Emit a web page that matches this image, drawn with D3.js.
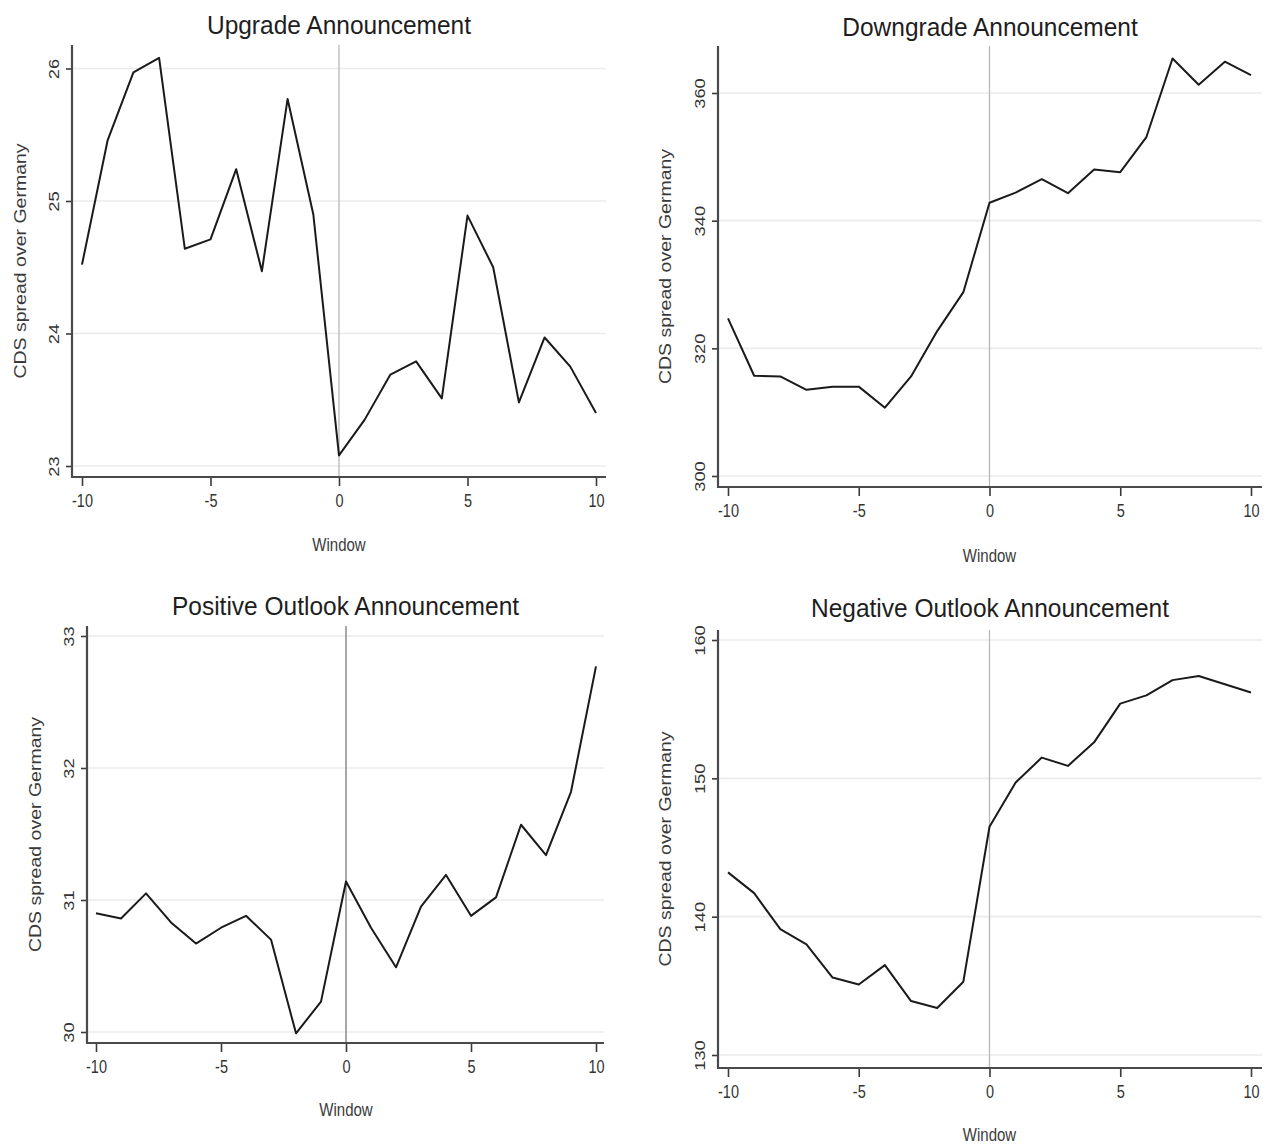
<!DOCTYPE html>
<html>
<head>
<meta charset="utf-8">
<script src="https://cdn.jsdelivr.net/npm/d3@7"></script>
<style>
  body { margin: 0; background: #fff; }
  text { font-family: "Liberation Sans", Arial, sans-serif; }
</style>
</head>
<body>
<div id="container"></div>
<script>
/* CONSTANTS AND GLOBALS */
const width = 1274,
  height = 1146;

/* DATA */
const windowDays = d3.range(-10, 11);
const xTicks = [-10, -5, 0, 5, 10];

const titles = ['Upgrade Announcement', 'Downgrade Announcement',
  'Positive Outlook Announcement', 'Negative Outlook Announcement'];

const upgrade = [24.52, 25.46, 25.97, 26.08, 24.64, 24.71, 25.24, 24.47, 25.77, 24.90,
  23.08, 23.35, 23.69, 23.79, 23.51, 24.89, 24.50, 23.48, 23.97, 23.75, 23.40];
const downgrade = [324.7, 315.7, 315.6, 313.5, 314.0, 314.0, 310.7, 315.6, 322.7, 328.8,
  342.8, 344.4, 346.5, 344.3, 348.0, 347.6, 353.1, 365.4, 361.3, 364.9, 362.8];
const positiveOutlook = [30.90, 30.86, 31.05, 30.83, 30.67, 30.79, 30.88, 30.70, 29.99, 30.23,
  31.14, 30.79, 30.49, 30.95, 31.19, 30.88, 31.02, 31.57, 31.34, 31.82, 32.77];
const negativeOutlook = [143.2, 141.7, 139.1, 138.0, 135.6, 135.1, 136.5, 133.9, 133.4, 135.3,
  146.5, 149.7, 151.5, 150.9, 152.6, 155.4, 156.0, 157.1, 157.4, 156.8, 156.2];

const upgradeTicks = [23, 24, 25, 26];
const downgradeTicks = [300, 320, 340, 360];
const positiveTicks = [30, 31, 32, 33];
const negativeTicks = [130, 140, 150, 160];

/* LAYOUT (pixel frame for each panel) */
const panels = [
  { title: titles[0], values: upgrade, yTicks: upgradeTicks,
    x0: 82, x1: 596, yLo: 466, yHi: 68.5, left: 72, right: 606, top: 45, bottom: 477,
    titleY: 34, yTitleX: 20, windowY: 545, zeroColor: '#b8b8b8' },
  { title: titles[1], values: downgrade, yTicks: downgradeTicks,
    x0: 728, x1: 1251, yLo: 476, yHi: 93, left: 718, right: 1262, top: 46, bottom: 487,
    titleY: 36, yTitleX: 665, windowY: 556, zeroColor: '#b8b8b8' },
  { title: titles[2], values: positiveOutlook, yTicks: positiveTicks,
    x0: 96, x1: 596, yLo: 1032, yHi: 636, left: 87, right: 604, top: 626, bottom: 1043,
    titleY: 615, yTitleX: 35, windowY: 1110, zeroColor: '#7a7a7a' },
  { title: titles[3], values: negativeOutlook, yTicks: negativeTicks,
    x0: 728, x1: 1251, yLo: 1055, yHi: 640, left: 718, right: 1262, top: 630, bottom: 1068,
    titleY: 617, yTitleX: 665, windowY: 1135, zeroColor: '#b8b8b8' }
];

const stretch = 1.22; // text in the picture is taller than wide

// CREATE SVG ELEMENT
const svg = d3.select('#container')
  .append('svg')
  .attr('width', width)
  .attr('height', height);

panels.forEach(p => {
  const g = svg.append('g');

  // SCALES
  const xScale = d3.scaleLinear()
    .domain([-10, 10])
    .range([p.x0, p.x1]);

  const yScale = d3.scaleLinear()
    .domain(d3.extent(p.yTicks))
    .range([p.yLo, p.yHi]);

  // GRID LINES
  g.selectAll('.grid')
    .data(p.yTicks)
    .join('line')
    .attr('x1', p.left)
    .attr('x2', p.right)
    .attr('y1', d => yScale(d))
    .attr('y2', d => yScale(d))
    .attr('stroke', '#ebebeb')
    .attr('stroke-width', 1.6);

  // ZERO LINE
  g.append('line')
    .attr('x1', xScale(0))
    .attr('x2', xScale(0))
    .attr('y1', p.top)
    .attr('y2', p.bottom)
    .attr('stroke', p.zeroColor)
    .attr('stroke-width', 1.3);

  // AXES
  const xAxis = d3.axisBottom(xScale)
    .tickValues(xTicks)
    .tickSize(9)
    .tickFormat(d => String(d));

  const xg = g.append('g')
    .attr('transform', `translate(0, ${p.bottom})`)
    .call(xAxis);
  xg.select('.domain').remove();
  xg.selectAll('line').attr('stroke', '#3a3a3a').attr('stroke-width', 1.6);
  xg.selectAll('text')
    .attr('y', null)
    .attr('dy', '0.35em')
    .attr('transform', `translate(0, 24) scale(1, ${stretch})`)
    .attr('font-size', 14.5)
    .attr('fill', '#333');

  const yAxis = d3.axisLeft(yScale)
    .tickValues(p.yTicks)
    .tickSize(6)
    .tickFormat(d => String(d));

  const yg = g.append('g')
    .attr('transform', `translate(${p.left}, 0)`)
    .call(yAxis);
  yg.select('.domain').remove();
  yg.selectAll('line').attr('stroke', '#3a3a3a').attr('stroke-width', 1.6);
  yg.selectAll('text')
    .attr('x', null)
    .attr('dy', '0.35em')
    .attr('text-anchor', 'middle')
    .attr('transform', `translate(-18, 0) scale(1, ${stretch}) rotate(-90)`)
    .attr('font-size', 15)
    .attr('fill', '#333');

  // AXIS FRAME
  g.append('path')
    .attr('d', `M${p.left},${p.top}V${p.bottom}H${p.right}`)
    .attr('fill', 'none')
    .attr('stroke', '#4a4a4a')
    .attr('stroke-width', 2.2);

  // LINE
  const lineGen = d3.line()
    .x((d, i) => xScale(windowDays[i]))
    .y(d => yScale(d));

  g.append('path')
    .attr('d', lineGen(p.values))
    .attr('fill', 'none')
    .attr('stroke', '#1a1a1a')
    .attr('stroke-width', 2)
    .attr('stroke-linejoin', 'round');

  // TEXTS
  g.append('text')
    .attr('transform', `translate(${(p.left + p.right) / 2}, ${p.titleY}) scale(1, 1.08)`)
    .attr('text-anchor', 'middle')
    .attr('font-size', 24.5)
    .attr('fill', '#1e1e1e')
    .text(p.title);

  g.append('text')
    .attr('transform', `translate(${p.yTitleX}, ${(p.top + p.bottom) / 2}) scale(1, ${stretch}) rotate(-90)`)
    .attr('text-anchor', 'middle')
    .attr('dy', '0.35em')
    .attr('font-size', 16)
    .attr('fill', '#3a3a3a')
    .text('CDS spread over Germany');

  g.append('text')
    .attr('transform', `translate(${xScale(0)}, ${p.windowY}) scale(1, ${stretch})`)
    .attr('text-anchor', 'middle')
    .attr('dy', '0.35em')
    .attr('font-size', 15)
    .attr('fill', '#3a3a3a')
    .text('Window');
});
</script>
</body>
</html>
